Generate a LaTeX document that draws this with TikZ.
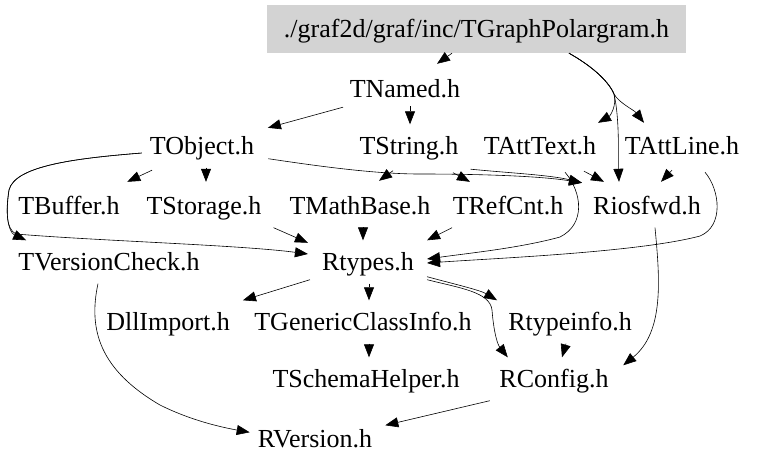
\documentclass[tikz,border=0pt]{standalone}
\usepackage{fontspec}
\setmainfont{Liberation Serif}
\usetikzlibrary{arrows.meta}
\definecolor{rootgray}{RGB}{211,211,211}
\begin{document}
\begin{tikzpicture}[x=1pt,y=-1pt,
  hdr/.style={font=\fontsize{26}{30}\selectfont, text height=17pt, text depth=0pt, inner xsep=13pt, inner ysep=13pt},
  root/.style={hdr, fill=rootgray, minimum width=419pt, minimum height=48pt},
  dep/.style={-{Triangle[length=13pt,width=10pt]}, line width=0.6pt}]
\useasboundingbox (0,0) rectangle (757,469);
% nodes
\node[root] (G) at (476.5,29) {./graf2d/graf/inc/TGraphPolargram.h};
\node[hdr] (TNamed) at (405,89) {TNamed.h};
\node[hdr] (TObject) at (202,146) {TObject.h};
\node[hdr] (TString) at (409,146) {TString.h};
\node[hdr] (TAttText) at (540,146) {TAttText.h};
\node[hdr] (TAttLine) at (682,146) {TAttLine.h};
\node[hdr] (TBuffer) at (69,206) {TBuffer.h};
\node[hdr] (TStorage) at (204,206) {TStorage.h};
\node[hdr] (TMathBase) at (360,206) {TMathBase.h};
\node[hdr] (TRefCnt) at (508,206) {TRefCnt.h};
\node[hdr] (Riosfwd) at (647,206) {Riosfwd.h};
\node[hdr] (TVersionCheck) at (109,262) {TVersionCheck.h};
\node[hdr] (Rtypes) at (368,262) {Rtypes.h};
\node[hdr] (DllImport) at (168,322) {DllImport.h};
\node[hdr] (TGenericClassInfo) at (363,322) {TGenericClassInfo.h};
\node[hdr] (Rtypeinfo) at (570,322) {Rtypeinfo.h};
\node[hdr] (TSchemaHelper) at (366,379) {TSchemaHelper.h};
\node[hdr] (RConfig) at (554,379) {RConfig.h};
\node[hdr] (RVersion) at (315,439) {RVersion.h};
% edges
\draw[dep] ([shift={(-24.5,0)}]G.south) -- ([shift={(32,-3.5)}]TNamed.north);
\draw[dep] ([shift={(92.5,0)}]G.south) .. controls (590,65) and (608,80) .. (614,94) .. controls (617,106) and (610,116) .. ([shift={(58,-1.5)}]TAttText.north);
\draw[dep] ([shift={(92.5,0)}]G.south) .. controls (590,65) and (608,80) .. (614,94) .. controls (619,103) and (634,110) .. ([shift={(-38,-1.5)}]TAttLine.north);
\draw[dep] ([shift={(92.5,0)}]G.south) .. controls (590,65) and (608,80) .. (614,94) .. controls (620,120) and (618,160) .. ([shift={(-28,-2.5)}]Riosfwd.north);
\draw[dep] ([shift={(-62,-3.5)}]TNamed.south) -- ([shift={(0.6,3.5)}]TObject.north east);
\draw[dep] ([shift={(5,-4.5)}]TNamed.south) -- ([shift={(1,0)}]TString.north);
\draw[dep] ([shift={(-50,2.5)}]TObject.south) -- ([shift={(-5.6,-2.5)}]TBuffer.north east);
\draw[dep] ([shift={(4,0)}]TObject.south) -- ([shift={(2,-2.5)}]TStorage.north);
\draw[dep] ([shift={(5,7)}]TObject.west) .. controls (80,158) and (15,165) .. (9,190) .. controls (5,212) and (8,232) .. ([shift={(21,0)}]TVersionCheck.north west);
\draw[dep] ([shift={(5,7)}]TObject.west) .. controls (80,158) and (15,165) .. (9,190) .. controls (6,212) and (6,229) .. (16,234) .. controls (100,241) and (240,245) .. ([shift={(-1,-8)}]Rtypes.west);
\draw[dep] ([shift={(1,-9)}]TObject.south east) .. controls (330,168) and (380,174) .. (420,174) .. controls (480,174) and (540,176) .. ([shift={(2,-1.5)}]Riosfwd.north west);
\draw[dep] ([shift={(-16,3)}]TString.south) -- ([shift={(19,-3.5)}]TMathBase.north);
\draw[dep] ([shift={(44,5)}]TString.south) -- ([shift={(-38,-2.5)}]TRefCnt.north);
\draw[dep] ([shift={(-1,1.5)}]TString.south east) .. controls (510,173) and (550,175) .. ([shift={(2,-1.5)}]Riosfwd.north west);
\draw[dep] ([shift={(44,3.5)}]TAttText.south) -- ([shift={(-43,-2.5)}]Riosfwd.north);
\draw[dep] ([shift={(-10,2.5)}]TAttLine.south) -- ([shift={(14,-2.5)}]Riosfwd.north);
\draw[dep] ([shift={(25,4.5)}]TAttText.south) .. controls (582,192) and (586,224) .. (560,237) .. controls (520,248) and (470,253) .. ([shift={(0,-3)}]Rtypes.east);
\draw[dep] ([shift={(23,4.5)}]TAttLine.south) .. controls (720,190) and (724,226) .. (700,236) .. controls (640,252) and (500,258) .. ([shift={(0,1)}]Rtypes.east);
\draw[dep] ([shift={(-1,0)}]TStorage.south east) -- ([shift={(-1,2.5)}]Rtypes.north west);
\draw[dep] ([shift={(3,0)}]TMathBase.south) -- ([shift={(-5,0)}]Rtypes.north);
\draw[dep] ([shift={(-56,0)}]TRefCnt.south) -- (Rtypes.north east);
\draw[dep] ([shift={(1,-4)}]Rtypes.south west) -- (DllImport.north east);
\draw[dep] ([shift={(1,0)}]Rtypes.south) -- ([shift={(6,0)}]TGenericClassInfo.north);
\draw[dep] ([shift={(0,-7)}]Rtypes.south east) .. controls (450,283) and (480,290) .. ([shift={(2,0)}]Rtypeinfo.north west);
\draw[dep] ([shift={(0,-4)}]Rtypes.south east) .. controls (460,288) and (490,292) .. (492,310) .. controls (494,335) and (498,345) .. ([shift={(21.5,0)}]RConfig.north west);
\draw[dep] ([shift={(-4,0)}]Rtypeinfo.south) -- ([shift={(8,0)}]RConfig.north);
\draw[dep] ([shift={(8,0)}]Riosfwd.south) .. controls (660,280) and (664,332) .. ([shift={(1.5,8)}]RConfig.north east);
\draw[dep] ([shift={(6,0)}]TGenericClassInfo.south) -- ([shift={(3,0)}]TSchemaHelper.north);
\draw[dep] ([shift={(-11,0)}]TVersionCheck.south) .. controls (88,330) and (100,370) .. (160,405) .. controls (190,420) and (220,427) .. ([shift={(5,15)}]RVersion.north west);
\draw[dep] ([shift={(3.5,0)}]RConfig.south west) -- ([shift={(0,8)}]RVersion.north east);
\end{tikzpicture}
\end{document}
